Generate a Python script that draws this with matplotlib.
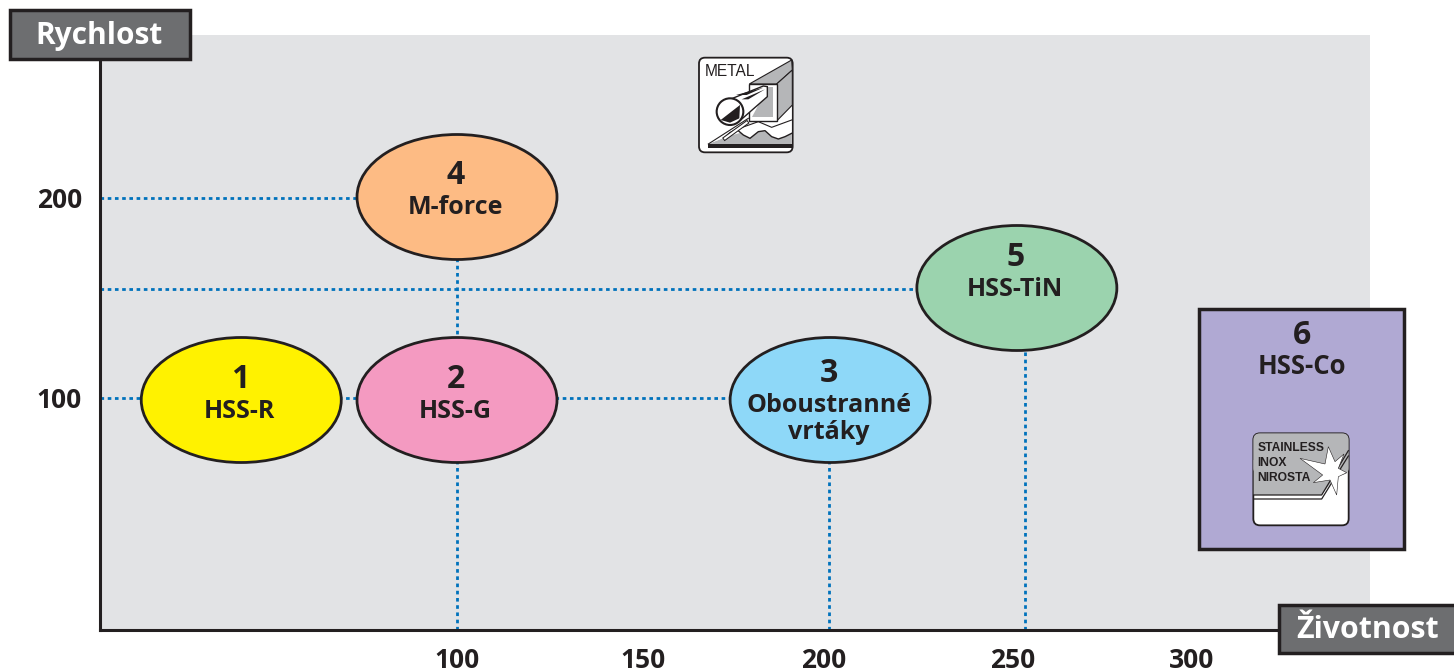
#!/usr/bin/env python3
"""Rychlost / zivotnost chart for drill types"""

import matplotlib
matplotlib.use('Agg')
import matplotlib.pyplot as plt
from matplotlib.patches import Ellipse, Rectangle, FancyBboxPatch, Polygon, Circle

plt.rcParams['font.family'] = ['Open Sans', 'DejaVu Sans']

W, H = 1454, 672
DARK = '#231f20'
BLUE = '#0072bc'
GRAY = '#b5b6b8'

# drill types
numbers = ['1', '2', '3', '4', '5']
names = ['HSS-R', 'HSS-G', 'Oboustranné\nvrtáky', 'M-force', 'HSS-TiN']
life = [42, 100, 200.3, 100, 250.5]
speed = [99, 99, 99, 200.5, 155]
colors = ['#fff200', '#f49ac1', '#8ed8f8', '#fdbb84', '#9bd3ae']

# box for type 6
box_number = '6'
box_name = 'HSS-Co'
box_life = [299.5, 354.6]
box_speed = [24.5, 144.5]
box_color = '#b0a9d3'

x_ticks = [100, 150, 198.7, 249.5, 297.6]
x_labels = ['100', '150', '200', '250', '300']
y_ticks = [100, 200]

# dotted guides: (y, x end) and (x, y end)
h_guides = [(100, 200), (200, 100), (154.5, 250)]
v_guides = [(100, 200), (200, 99), (252.7, 155)]

fig = plt.figure(figsize=(W / 100, H / 100), dpi=100)


def px_axes(x0, y0, x1, y1, **kw):
    return fig.add_axes([x0 / W, 1 - y1 / H, (x1 - x0) / W, (y1 - y0) / H], **kw)


# main plot, area 100..1370 x 35..630 px
ax = px_axes(100, 35, 1370, 630)
ax.set_xlim(100 + (100 - 457) / 3.72, 100 + (1370 - 457) / 3.72)
ax.set_ylim(100 + (398 - 630) / 2, 100 + (398 - 35) / 2)
ax.set_facecolor('#e2e3e5')

for s in ['top', 'right']:
    ax.spines[s].set_visible(False)
for s in ['left', 'bottom']:
    ax.spines[s].set_linewidth(2.2)
    ax.spines[s].set_color(DARK)

ax.set_xticks(x_ticks)
ax.set_xticklabels(x_labels)
ax.set_yticks(y_ticks)
ax.tick_params(length=0, labelsize=19, labelcolor=DARK)
ax.tick_params(axis='x', pad=12)
ax.tick_params(axis='y', pad=13)
for lab in ax.get_xticklabels() + ax.get_yticklabels():
    lab.set_fontweight('bold')

x0, y0 = ax.get_xlim()[0], ax.get_ylim()[0]
for y, xe in h_guides:
    ax.plot([x0, xe], [y, y], color=BLUE, lw=2, ls=(0, (1.3, 1.3)), zorder=2)
for x, ye in v_guides:
    ax.plot([x, x], [y0, ye], color=BLUE, lw=2, ls=(0, (1.3, 1.3)), zorder=2)

# text offsets from the ellipse centre, number and name
num_off = [10, 10, 13, 10.5, 15]
name_off = [-6, -6, -9.5, -5.5, -0.5]
for i in range(len(numbers)):
    x, y = life[i], speed[i]
    ax.add_patch(Ellipse((x, y), 200 / 3.72, 125 / 2, fc=colors[i], ec=DARK, lw=2, zorder=3))
    ax.text(x - 0.4, y + num_off[i], numbers[i], ha='center', va='center', fontsize=23,
            fontweight='bold', color=DARK, zorder=4)
    ax.text(x - 0.4, y + name_off[i], names[i], ha='center', va='center', fontsize=18,
            fontweight='bold', color=DARK, zorder=4, linespacing=1.1)

ax.add_patch(Rectangle((box_life[0], box_speed[0]), box_life[1] - box_life[0],
                       box_speed[1] - box_speed[0], fc=box_color, ec=DARK, lw=2.5,
                       clip_on=False, zorder=3))
bx = sum(box_life) / 2
ax.text(bx, 131, box_number, ha='center', va='center', fontsize=23,
        fontweight='bold', color=DARK, zorder=4)
ax.text(bx, 116, box_name, ha='center', va='center', fontsize=18.5,
        fontweight='bold', color=DARK, zorder=4)

# axis title plates, in pixels
over = px_axes(0, 0, W, H, zorder=5)
over.set_xlim(0, W)
over.set_ylim(H, 0)
over.axis('off')
over.patch.set_alpha(0)
over.add_patch(Rectangle((9.5, 9.5), 180, 49.5, fc='#6d6e70', ec=DARK, lw=2.5))
over.text(99, 36, 'Rychlost', color='white', fontsize=21.5, fontweight='bold',
          ha='center', va='center')
over.add_patch(Rectangle((1278.5, 604.5), 190, 48.5, fc='#6d6e70', ec=DARK, lw=2.5))
over.text(1368, 630, 'Životnost', color='white', fontsize=21.8, fontweight='bold',
          ha='center', va='center')

# METAL icon, coordinates are the 3x crop at (680,40)
ic = px_axes(680, 40, 810, 165, zorder=6)
ic.set_xlim(0, 390)
ic.set_ylim(375, 0)
ic.axis('off')
ic.patch.set_alpha(0)
ic.add_patch(FancyBboxPatch((70, 66), 255, 258, boxstyle='round,pad=13,rounding_size=18',
                            fc='white', ec=DARK, lw=1.3, zorder=1))
# wavy sheet, grey under the wave with a white band above
wave_x = [135, 150, 170, 190, 210, 235, 255, 275, 295, 315, 335]
wave_y = [292, 278, 268, 285, 295, 275, 272, 290, 297, 290, 280]
ic.add_patch(Polygon([(85, 312)] + list(zip(wave_x, wave_y)) + [(335, 312)], fc=GRAY, ec='none', zorder=2))
ic.add_patch(Polygon([(85, 312), (205, 235), (290, 243), (335, 195), (335, 280), (210, 270), (135, 292)],
                     fc='white', ec='none', zorder=2))
ic.plot([85, 205], [312, 235], color=DARK, lw=0.8, zorder=3)
ic.plot(wave_x, wave_y, color=DARK, lw=1, zorder=4)
ic.plot([170, 235, 275, 335], [268, 245, 262, 240], color=DARK, lw=0.8, zorder=4)
ic.add_patch(Rectangle((85, 312), 250, 11, fc=DARK, ec='none', zorder=3))
# square tube
ic.add_patch(Polygon([(208, 132), (335, 60), (337, 90), (290, 132)], fc=GRAY, ec=DARK, lw=0.8, zorder=4))
ic.add_patch(Polygon([(290, 132), (337, 90), (337, 195), (290, 243)], fc=GRAY, ec=DARK, lw=0.8, zorder=4))
ic.add_patch(Rectangle((208, 132), 82, 111, fc='white', ec=DARK, lw=1, zorder=5))
ic.add_patch(Polygon([(265, 142), (280, 142), (280, 232), (215, 232)], fc=GRAY, ec='none', zorder=6))
# round tube
ic.add_patch(Polygon([(125, 188), (250, 138), (262, 140), (262, 170), (182, 240)], fc='white', ec=DARK, lw=1, zorder=7))
ic.add_patch(Polygon([(168, 165), (250, 143), (200, 165)], fc=DARK, ec='none', zorder=8))
ic.add_patch(Polygon([(185, 178), (255, 148), (205, 178)], fc=DARK, ec='none', zorder=8))
ic.add_patch(Circle((150, 215), 40, fc='white', ec=DARK, lw=1.5, zorder=9))
ic.add_patch(Polygon([(122, 240), (180, 195), (178, 235), (150, 248)], fc=DARK, ec='none', zorder=10))
ic.plot([135, 200], [295, 248], color=DARK, lw=3, zorder=6)
ic.plot([135, 200], [295, 248], color='white', lw=1.5, zorder=6)
ic.text(75, 96, 'METAL', fontsize=11.2, family=['Liberation Sans'], color=DARK, va='center',
        ha='left', zorder=11)

# STAINLESS icon, coordinates are the 3x crop at (1190,300)
ic2 = px_axes(1190, 300, 1415, 555, zorder=6)
ic2.set_xlim(0, 675)
ic2.set_ylim(765, 0)
ic2.axis('off')
ic2.patch.set_alpha(0)
ic2.add_patch(FancyBboxPatch((202, 412), 262, 252, boxstyle='round,pad=12,rounding_size=20',
                             fc='white', ec=DARK, lw=1.3, zorder=1))
ic2.add_patch(FancyBboxPatch((202, 412), 262, 100, boxstyle='round,pad=12,rounding_size=20',
                             fc=GRAY, ec='none', zorder=2))
ic2.add_patch(Polygon([(191, 480), (475, 480), (395, 585), (191, 585)], fc=GRAY, ec='none', zorder=2))
ic2.plot([191, 395, 475], [597, 597, 468], color=DARK, lw=0.9, zorder=3)
ic2.plot([191, 395, 475], [585, 585, 452], color=DARK, lw=0.9, zorder=3)
star = [(330, 475), (405, 492), (415, 440), (435, 485), (462, 462), (445, 505), (470, 518),
        (445, 530), (440, 585), (420, 540), (370, 548), (398, 525)]
ic2.add_patch(Polygon(star, fc='white', ec=DARK, lw=0.4, zorder=4))
for txt, y in zip(['STAINLESS', 'INOX', 'NIROSTA'], [444, 488, 534]):
    ic2.text(203, y, txt, fontsize=8.7, fontweight='bold', family=['Liberation Sans'],
             color=DARK, va='center', ha='left', zorder=5)

plt.savefig('out.png', dpi=100)
print('Saved: out.png')
